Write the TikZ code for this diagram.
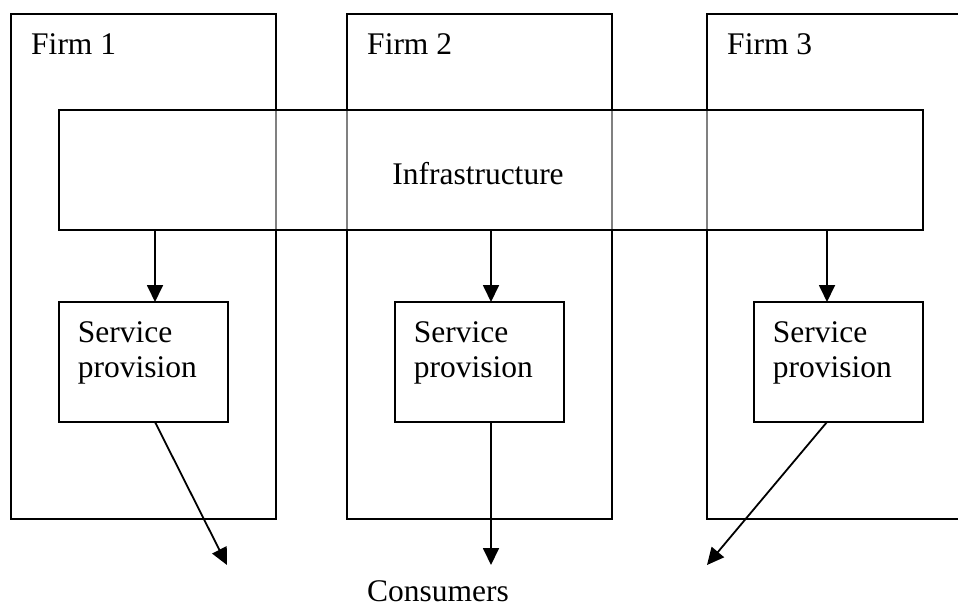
\documentclass[tikz,border=0pt]{standalone}
\usepackage{fontspec}
\setmainfont{Liberation Serif}
\usetikzlibrary{positioning,arrows.meta}

\tikzset{
  firm/.style={draw, outer sep=0pt, inner sep=0pt, minimum width=265pt, minimum height=505pt},
  infra/.style={draw, outer sep=0pt, fill=white, fill opacity=0.5, text opacity=1, minimum width=864pt, minimum height=120pt},
  svc/.style={draw, outer sep=0pt, fill=white, minimum width=169pt, minimum height=120pt},
  svctext/.style={anchor=north west, align=left, inner sep=0pt, xshift=18pt, yshift=-19pt},
}

\begin{document}
\begin{tikzpicture}[x=1pt, y=-1pt, line width=1.8pt,
    font=\fontsize{31.5}{35}\selectfont,
    >={Triangle[length=17pt, width=16pt]}]
    \useasboundingbox (0,0) rectangle (958,607);
    % Nodes
    \node[firm, anchor=north west] (firm1) at (11,14) {} ; %
    \node[firm, anchor=north west] (firm2) at (347,14) {} ; %
    \node[firm, anchor=north west] (firm3) at (707,14) {} ; %
    \node[anchor=base west] (name1) at ([xshift=16pt, yshift=-41pt]firm1.north west) {Firm 1} ; %
    \node[anchor=base west] (name2) at ([xshift=16pt, yshift=-41pt]firm2.north west) {Firm 2} ; %
    \node[anchor=base west] (name3) at ([xshift=16pt, yshift=-41pt]firm3.north west) {Firm 3} ; %
    \node[infra, label={[anchor=base, xshift=-13pt, yshift=-4pt]center:Infrastructure}] (infra) at (491,170) {} ; %
    \node[svc, below right=72pt and 0pt of infra.south west, label={[svctext]north west:Service\\provision}] (svc1) {} ; %
    \node[svc, anchor=north west, label={[svctext]north west:Service\\provision}] (svc2) at (395,302) {} ; %
    \node[svc, below left=72pt and 0pt of infra.south east, label={[svctext]north west:Service\\provision}] (svc3) {} ; %
    \node[anchor=base, inner sep=1pt] (cons) at (438,601) {Consumers} ; %
    % Arrows
    \coordinate (a1) at (155,230) ; %
    \coordinate (a2) at (491,230) ; %
    \coordinate (a3) at (827,230) ; %
    \coordinate (tip1) at (227,565) ; %
    \coordinate (tip2) at (491,565) ; %
    \coordinate (tip3) at (707,565) ; %
    \draw[->] (infra.south -| a1) -- (svc1.north -| a1) ; %
    \draw[->] (infra.south -| a2) -- (svc2.north -| a2) ; %
    \draw[->] (infra.south -| a3) -- (svc3.north -| a3) ; %
    \draw[->] (svc1.south -| a1) -- (tip1) ; %
    \draw[->] (svc2.south -| a2) -- (tip2) ; %
    \draw[->] (svc3.south -| a3) -- (tip3) ; %
\end{tikzpicture}
\end{document}
